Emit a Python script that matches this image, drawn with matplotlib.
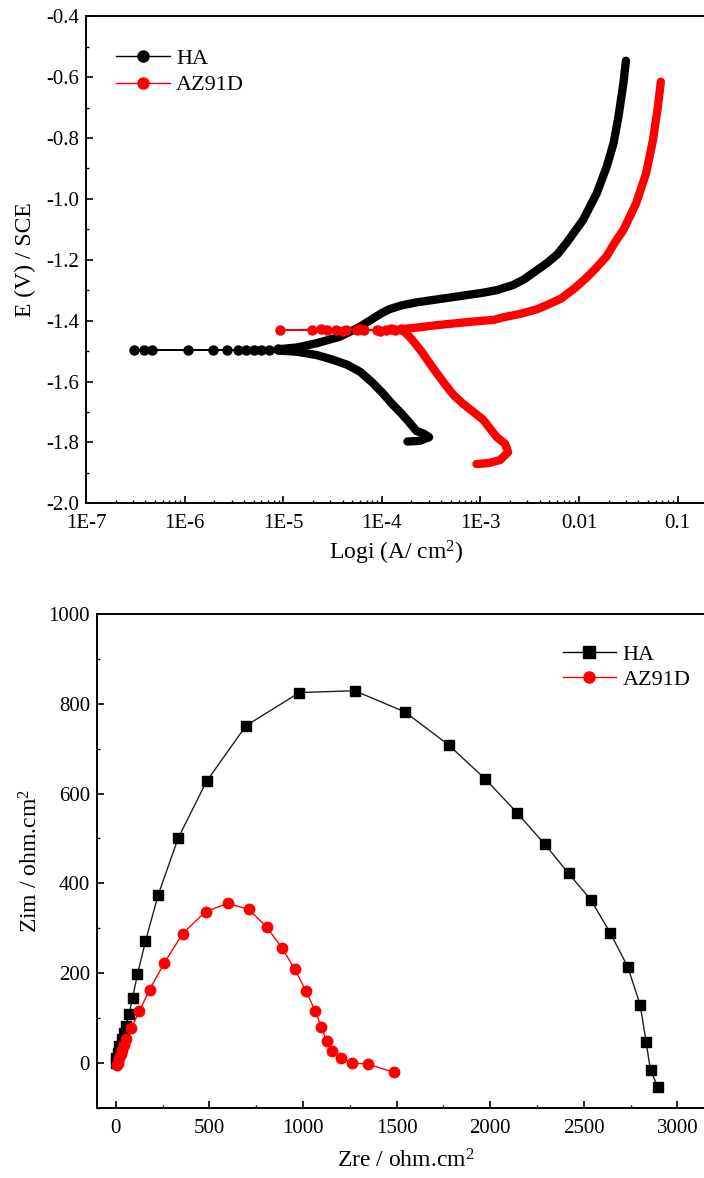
import numpy as np
import matplotlib
matplotlib.use("Agg")
import matplotlib.pyplot as plt
from matplotlib.lines import Line2D
from matplotlib.ticker import MultipleLocator, LogLocator, FixedFormatter, FixedLocator

plt.rcParams['font.family'] = ['Liberation Serif', 'DejaVu Serif']
plt.rcParams['mathtext.default'] = 'regular'

# ---- polarization curves (current density A/cm2, potential V vs SCE) ----
# HA: cathodic branch (from -1.8 V up to the nose)
ha_cath_i = [1.82e-4, 2.40e-4, 3.02e-4, 2.69e-4, 2.24e-4, 1.91e-4, 1.58e-4, 1.26e-4,
             1.00e-4, 7.94e-5, 6.03e-5, 4.47e-5, 3.16e-5, 2.19e-5, 1.38e-5, 8.91e-6]
ha_cath_E = [-1.797, -1.795, -1.783, -1.772, -1.762, -1.735, -1.705, -1.672,
             -1.635, -1.602, -1.568, -1.545, -1.528, -1.513, -1.502, -1.498]
# HA: sparse points around the corrosion potential
ha_corr_i = [7.24e-6, 5.01e-6, 3.47e-6, 1.96e-6, 4.62e-7, 3.10e-7, 3.91e-7, 1.09e-6,
             2.72e-6, 4.17e-6, 5.89e-6, 8.91e-6]
ha_corr_E = [-1.496, -1.496, -1.496, -1.496, -1.496, -1.496, -1.496, -1.496,
             -1.496, -1.496, -1.496, -1.494]
# HA: anodic branch
ha_anod_i = [8.91e-6, 1.38e-5, 2.19e-5, 3.72e-5, 6.03e-5, 8.13e-5, 1.00e-4, 1.20e-4,
             1.58e-4, 2.24e-4, 4.90e-4, 1.07e-3, 1.45e-3, 2.14e-3, 2.75e-3, 3.39e-3,
             4.68e-3, 6.03e-3, 7.41e-3, 1.10e-2, 1.51e-2, 1.91e-2, 2.24e-2, 2.51e-2,
             2.82e-2, 2.99e-2]
ha_anod_E = [-1.494, -1.488, -1.474, -1.453, -1.420, -1.393, -1.375, -1.362,
             -1.350, -1.340, -1.324, -1.308, -1.300, -1.283, -1.265, -1.244,
             -1.212, -1.182, -1.146, -1.069, -0.982, -0.894, -0.817, -0.730,
             -0.620, -0.546]

# AZ91D: cathodic branch
az_cath_i = [9.12e-4, 1.20e-3, 1.58e-3, 1.91e-3, 1.78e-3, 1.45e-3, 1.07e-3, 8.13e-4,
             6.61e-4, 5.37e-4, 4.57e-4, 3.31e-4, 2.51e-4, 2.00e-4, 1.66e-4]
az_cath_E = [-1.871, -1.868, -1.858, -1.832, -1.805, -1.781, -1.726, -1.695,
             -1.672, -1.645, -1.617, -1.556, -1.500, -1.460, -1.433]
# AZ91D: sparse points around the corrosion potential
az_corr_i = [1.35e-4, 1.10e-4, 8.91e-5, 6.61e-5, 5.62e-5, 4.37e-5, 3.47e-5, 2.76e-5,
             1.95e-5, 9.33e-6, 2.40e-5, 4.00e-5, 6.00e-5, 9.50e-5, 1.25e-4, 1.58e-4]
az_corr_E = [-1.431, -1.431, -1.431, -1.431, -1.431, -1.431, -1.431, -1.431,
             -1.431, -1.431, -1.428, -1.433, -1.427, -1.433, -1.428, -1.428]
# AZ91D: anodic branch
az_anod_i = [1.58e-4, 2.51e-4, 3.55e-4, 7.76e-4, 1.38e-3, 1.70e-3, 2.51e-3, 3.72e-3,
             5.01e-3, 6.61e-3, 8.91e-3, 1.20e-2, 1.51e-2, 1.91e-2, 2.34e-2, 2.82e-2,
             3.80e-2, 4.79e-2, 5.62e-2, 6.31e-2, 6.76e-2]
az_anod_E = [-1.428, -1.421, -1.415, -1.404, -1.397, -1.389, -1.378, -1.363,
             -1.345, -1.327, -1.295, -1.258, -1.225, -1.188, -1.140, -1.102,
             -1.014, -0.916, -0.807, -0.697, -0.615]

# ---- Nyquist plot (ohm.cm2) ----
ha_zre = [-1, 3, 10, 19, 31, 42, 54, 71, 90, 116, 159, 226, 334, 485, 696, 981, 1276,
          1544, 1779, 1975, 2146, 2292, 2419, 2538, 2642, 2735, 2802, 2833, 2857, 2896]
ha_zim = [0, 11, 22, 37, 52, 67, 82, 108, 145, 197, 271, 373, 501, 627, 751, 825, 829,
          782, 708, 632, 556, 487, 422, 363, 289, 214, 128, 46, -17, -54]
az_zre = [8, 12, 19, 26, 33, 43, 54, 83, 126, 181, 260, 358, 480, 598, 710, 806, 888,
          957, 1015, 1065, 1099, 1127, 1156, 1202, 1261, 1350, 1484]
az_zim = [-4, 0, 10, 20, 29, 40, 53, 77, 115, 163, 223, 288, 337, 355, 342, 303, 256,
          208, 161, 116, 79, 48, 26, 10, 0, -3, -21]

RED = '#ff0000'
FS = 15

fig = plt.figure(figsize=(7.04, 11.78), dpi=100)

# ================= top: Tafel plot =================
ax1 = fig.add_axes([86 / 704, 1 - 503.3 / 1178, 621.3 / 704, 487 / 1178])
for ci, cE, si, sE, ai, aE, col in [
        (ha_cath_i, ha_cath_E, ha_corr_i, ha_corr_E, ha_anod_i, ha_anod_E, 'black'),
        (az_cath_i, az_cath_E, az_corr_i, az_corr_E, az_anod_i, az_anod_E, RED)]:
    # dense parts: overlapping markers look like a thick band
    ax1.plot(ci, cE, color=col, lw=6, solid_capstyle='round', solid_joinstyle='round')
    ax1.plot(ai, aE, color=col, lw=6, solid_capstyle='round', solid_joinstyle='round')
    ax1.plot(si, sE, color=col, lw=1, marker='o', ms=6.5, mec=col, mfc=col)

ax1.set_xscale('log')
ax1.set_xlim(1e-7, 0.2)
ax1.set_ylim(-2.0, -0.4)
ax1.xaxis.set_major_locator(FixedLocator([1e-7, 1e-6, 1e-5, 1e-4, 1e-3, 1e-2, 1e-1]))
ax1.xaxis.set_major_formatter(FixedFormatter(['1E-7', '1E-6', '1E-5', '1E-4', '1E-3', '0.01', '0.1']))
ax1.xaxis.set_minor_locator(LogLocator(base=10, subs=np.arange(2, 10), numticks=20))
ax1.yaxis.set_major_locator(MultipleLocator(0.2))
ax1.yaxis.set_minor_locator(MultipleLocator(0.1))
ax1.set_yticks(ax1.get_yticks())
ax1.set_yticklabels(['%.1f' % v for v in ax1.get_yticks()])
ax1.set_ylim(-2.0, -0.4)
ax1.set_xlabel('Logi (A/ cm$^{2}$)', fontsize=17, labelpad=4)
ax1.set_ylabel('E (V) / SCE', fontsize=17, labelpad=7)

leg1 = [Line2D([], [], color='black', lw=1, marker='o', ms=8, label='HA'),
        Line2D([], [], color=RED, lw=1, marker='o', ms=8, label='AZ91D')]
ax1.legend(handles=leg1, loc='upper left', bbox_to_anchor=(0.02, 0.97), frameon=False,
           fontsize=16, handlelength=2.4, handletextpad=0.3, labelspacing=0.25,
           borderpad=0.3)

# ================= bottom: Nyquist plot =================
ax2 = fig.add_axes([97 / 704, 1 - 1107.7 / 1178, 617.8 / 704, 493.7 / 1178])
ax2.plot(ha_zre, ha_zim, color='#202020', lw=1, marker='s', ms=7.5, mfc='black', mec='black')
ax2.plot(az_zre, az_zim, color=RED, lw=1, marker='o', ms=7.5, mfc=RED, mec=RED)
ax2.set_xlim(-100, 3200)
ax2.set_ylim(-100, 1000)
ax2.xaxis.set_major_locator(MultipleLocator(500))
ax2.xaxis.set_minor_locator(MultipleLocator(250))
ax2.yaxis.set_major_locator(MultipleLocator(200))
ax2.yaxis.set_minor_locator(MultipleLocator(100))
ax2.set_xlabel('Zre / ohm.cm$^{2}$', fontsize=17, labelpad=8)
ax2.set_ylabel('Zim / ohm.cm$^{2}$', fontsize=17, labelpad=4)

leg2 = [Line2D([], [], color='black', lw=1, marker='s', ms=8, label='HA'),
        Line2D([], [], color=RED, lw=1, marker='o', ms=8, label='AZ91D')]
ax2.legend(handles=leg2, loc='upper left', bbox_to_anchor=(0.725, 0.975), frameon=False,
           fontsize=16, handlelength=2.4, handletextpad=0.3, labelspacing=0.2,
           borderpad=0.3)

for ax in (ax1, ax2):
    for s in ax.spines.values():
        s.set_linewidth(1.4)
    ax.tick_params(which='major', direction='in', length=5, width=1.2, labelsize=FS, pad=5)
    ax.tick_params(which='minor', direction='in', length=2.5, width=1.0)
    ax.tick_params(axis='x', which='major', pad=8)

fig.savefig('out.png', dpi=100)
